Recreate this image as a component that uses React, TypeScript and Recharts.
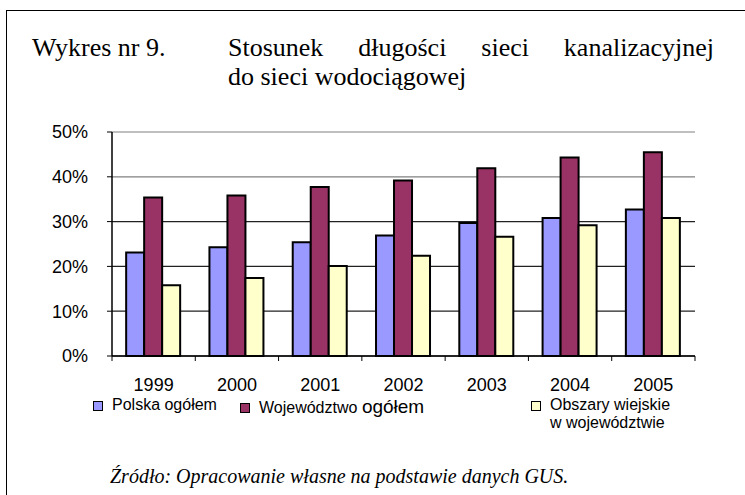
import React from "react";
import {
  BarChart,
  Bar,
  XAxis,
  YAxis,
  CartesianGrid,
} from "recharts";

const years = ["1999", "2000", "2001", "2002", "2003", "2004", "2005"];
const polskaOgolem = [23.1, 24.3, 25.4, 26.9, 29.7, 30.8, 32.7];
const wojewodztwoOgolem = [35.4, 35.8, 37.7, 39.2, 41.9, 44.3, 45.5];
const obszaryWiejskie = [15.8, 17.4, 20.1, 22.4, 26.6, 29.2, 30.8];
const yTicks = [0, 10, 20, 30, 40, 50];
const seriesKeys = ["polska", "wojewodztwo", "obszary"];
const seriesNames = [
  "Polska ogółem",
  "Województwo ogółem",
  "Obszary wiejskie w województwie",
];
const seriesColors = ["#9999FF", "#993366", "#FFFFCC"];

const data = years.map((year, i) => ({
  year,
  polska: polskaOgolem[i],
  wojewodztwo: wojewodztwoOgolem[i],
  obszary: obszaryWiejskie[i],
}));

const SANS = "'Liberation Sans', Arial, sans-serif";
const SERIF = "'Liberation Serif', 'Times New Roman', serif";

const XTick = (props: any) => {
  const { x, y, payload, index } = props;
  const half = payload?.offset ?? 0;
  const last = index === years.length - 1;
  return (
    <g>
      <line x1={x - half} x2={x - half} y1={y} y2={y + 5} stroke="#000" />
      {last && <line x1={x + half} x2={x + half} y1={y} y2={y + 5} stroke="#000" />}
      <text
        x={x}
        y={y + 35}
        textAnchor="middle"
        fontFamily={SANS}
        fontSize={18}
        fill="#000"
      >
        {payload.value}
      </text>
    </g>
  );
};

const GridLine = (props: any) => {
  const { x1, x2, y1, y2, index } = props;
  return (
    <line
      key={props.key}
      x1={x1}
      x2={x2}
      y1={y1}
      y2={y2}
      stroke={index >= 4 ? "#808080" : "#222"}
      strokeWidth={1.2}
    />
  );
};

const LegendItem = ({ i, left, top }: { i: number; left: number; top: number }) => {
  const words = seriesNames[i].split(" ");
  let label: React.ReactNode = seriesNames[i];
  if (i === 1) {
    label = (
      <>
        {words[0]} <span style={{ fontSize: 19 }}>{words[1]}</span>
      </>
    );
  } else if (i === 2) {
    label = (
      <>
        {words.slice(0, 2).join(" ")}
        <br />
        {words.slice(2).join(" ")}
      </>
    );
  }
  return (
    <div style={{ position: "absolute", left, top, display: "flex", alignItems: "flex-start" }}>
      <div
        style={{
          width: 8,
          height: 8,
          background: seriesColors[i],
          border: "1.5px solid #000",
          marginTop: 5,
          marginRight: 9,
        }}
      />
      <div style={{ fontFamily: SANS, fontSize: 16, lineHeight: "18px", color: "#000" }}>
        {label}
      </div>
    </div>
  );
};

export default function App() {
  return (
    <div
      style={{
        position: "fixed",
        left: 0,
        top: 0,
        width: 745,
        height: 495,
        background: "#fff",
        overflow: "hidden",
      }}
    >
      <div
        style={{
          position: "absolute",
          left: 6,
          top: 10,
          width: 760,
          height: 520,
          borderLeft: "1.5px solid #000",
          borderTop: "1.5px solid #000",
        }}
      />
      <div
        style={{
          position: "absolute",
          left: 32,
          top: 33,
          fontFamily: SERIF,
          fontSize: 26,
          lineHeight: "29px",
          color: "#000",
          whiteSpace: "nowrap",
        }}
      >
        Wykres nr 9.
      </div>
      <div
        style={{
          position: "absolute",
          left: 228,
          top: 33,
          width: 486,
          fontFamily: SERIF,
          fontSize: 26,
          lineHeight: "29px",
          color: "#000",
        }}
      >
        <div style={{ textAlign: "justify", textAlignLast: "justify" }}>
          Stosunek długości sieci kanalizacyjnej
        </div>
        <div>do sieci wodociągowej</div>
      </div>

      <div style={{ position: "absolute", left: 0, top: 0 }}>
        <BarChart
          width={745}
          height={495}
          data={data}
          margin={{ top: 132, right: 50, left: 52, bottom: 99 }}
          barCategoryGap="17%"
          barGap={0}
        >
          <CartesianGrid vertical={false} horizontal={GridLine} />
          <XAxis
            dataKey="year"
            height={40}
            axisLine={{ stroke: "#000", strokeWidth: 1.5 }}
            tickLine={false}
            tickSize={0}
            tickMargin={0}
            tick={<XTick />}
            interval={0}
          />
          <YAxis
            width={60}
            domain={[0, 50]}
            ticks={yTicks}
            tickFormatter={(v: number) => `${v}%`}
            axisLine={{ stroke: "#000", strokeWidth: 1.5 }}
            tickLine={{ stroke: "#000" }}
            tickSize={5}
            tickMargin={19}
            tick={{ fill: "#000", fontFamily: SANS, fontSize: 18 }}
          />
          {seriesKeys.map((k, i) => (
            <Bar
              key={k}
              dataKey={k}
              name={seriesNames[i]}
              fill={seriesColors[i]}
              stroke="#000"
              strokeWidth={2}
              isAnimationActive={false}
            />
          ))}
        </BarChart>
      </div>

      <LegendItem i={0} left={93} top={396} />
      <LegendItem i={1} left={240} top={398} />
      <LegendItem i={2} left={531} top={396} />

      <div
        style={{
          position: "absolute",
          left: 110,
          top: 465,
          fontFamily: SERIF,
          fontStyle: "italic",
          fontSize: 20,
          color: "#000",
          whiteSpace: "nowrap",
        }}
      >
        Źródło: Opracowanie własne na podstawie danych GUS.
      </div>
    </div>
  );
}
